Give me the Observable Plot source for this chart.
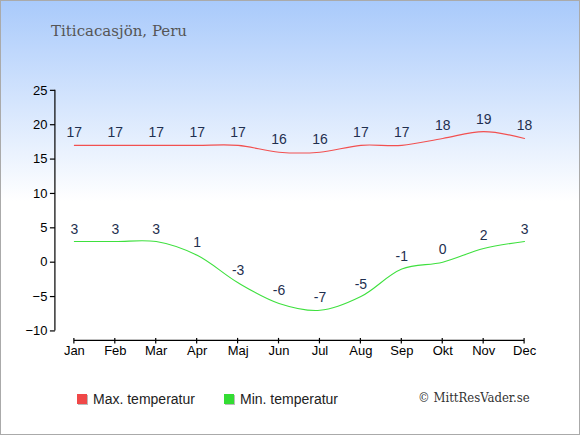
<!DOCTYPE html>
<html>
<head>
<meta charset="utf-8">
<script src="https://cdn.jsdelivr.net/npm/d3@7"></script>
<script src="https://cdn.jsdelivr.net/npm/@observablehq/plot@0.6"></script>
<style>
  html, body { margin: 0; padding: 0; }
  #wrap {
    position: relative; width: 580px; height: 435px; box-sizing: border-box;
    border: 1px solid #aaa;
    background: linear-gradient(to bottom, #a9cafb 0px, #ffffff 200px, #ffffff 435px);
    overflow: hidden;
  }
  #chart { position: absolute; left: -1px; top: -1px; }
  .t { position: absolute; white-space: nowrap; line-height: 1; }
  #title { left: 50px; top: 23px; font-family: "DejaVu Serif", serif; font-size: 15px; color: #555; }
  .leg { font-family: "Liberation Sans", Arial, sans-serif; font-size: 14px; color: #222; top: 391px; }
  .sq { position: absolute; width: 10px; height: 10px; top: 393px; box-shadow: 1px 1px 0 #bbb; }
  #copy { left: 417px; top: 390px; font-family: "DejaVu Serif Condensed", "DejaVu Serif", serif; font-stretch: condensed; font-size: 13px; color: #333; }
</style>
</head>
<body>
<div id="wrap">
  <div id="chart"></div>
  <div class="t" id="title">Titicacasjön, Peru</div>
  <div class="sq" style="left:76px;background:#f04848"></div>
  <div class="t leg" style="left:92px">Max. temperatur</div>
  <div class="sq" style="left:223px;background:#33dd33"></div>
  <div class="t leg" style="left:239px">Min. temperatur</div>
  <div class="t" id="copy">© MittResVader.se</div>
</div>
<script>
const months = ["Jan","Feb","Mar","Apr","Maj","Jun","Jul","Aug","Sep","Okt","Nov","Dec"];
const maxTemp = [17,17,17,17,17,16,16,17,17,18,19,18];
const minTemp = [3,3,3,1,-3,-6,-7,-5,-1,0,2,3];
const yTicks = [-10,-5,0,5,10,15,20,25];

const rows = months.map((m, i) => ({month: m, max: maxTemp[i], min: minTemp[i]}));

function axisLines(index, scales, values, dimensions) {
  const g = d3.create("svg:g").attr("stroke", "#000").attr("stroke-width", 1.2).attr("fill", "none");
  const x = scales.x, y = scales.y;
  const yb = dimensions.height - dimensions.marginBottom;
  const xl = dimensions.marginLeft;
  g.append("line").attr("x1", x(months[0])).attr("x2", x(months[months.length - 1]))
    .attr("y1", yb).attr("y2", yb);
  for (const m of months) {
    g.append("line").attr("x1", x(m)).attr("x2", x(m)).attr("y1", yb - 2.5).attr("y2", yb + 3);
  }
  g.append("line").attr("x1", xl).attr("x2", xl)
    .attr("y1", y(yTicks[0])).attr("y2", y(yTicks[yTicks.length - 1]));
  return g.node();
}

const chart = Plot.plot({
  width: 580,
  height: 435,
  marginLeft: 55,
  marginRight: 55,
  marginTop: 90,
  marginBottom: 94,
  style: {background: "transparent", fontFamily: "'Liberation Sans', Arial, sans-serif", overflow: "visible"},
  x: {type: "point", domain: months, range: [74, 525], padding: 0},
  y: {domain: [-10, 25], range: [331, 90]},
  marks: [
    Plot.axisY(yTicks, {anchor: "left", tickSize: 5, tickPadding: 3, fontSize: 13, fill: "#000", strokeWidth: 1.2, label: null}),
    Plot.axisX(months, {anchor: "bottom", tickSize: 0, tickPadding: 5, fontSize: 13, fill: "#000", label: null}),
    axisLines,
    Plot.line(rows, {x: "month", y: "max", curve: "catmull-rom", stroke: "#f25050", strokeWidth: 1.1}),
    Plot.line(rows, {x: "month", y: "min", curve: "catmull-rom", stroke: "#3ee03e", strokeWidth: 1.1}),
    Plot.text(rows, {x: "month", y: "max", text: "max", dy: -12.5, fontSize: 14, fill: "#1f2f4f"}),
    Plot.text(rows, {x: "month", y: "min", text: "min", dy: -12.5, fontSize: 14, fill: "#1f2f4f"})
  ]
});
document.getElementById("chart").appendChild(chart);
</script>
</body>
</html>
